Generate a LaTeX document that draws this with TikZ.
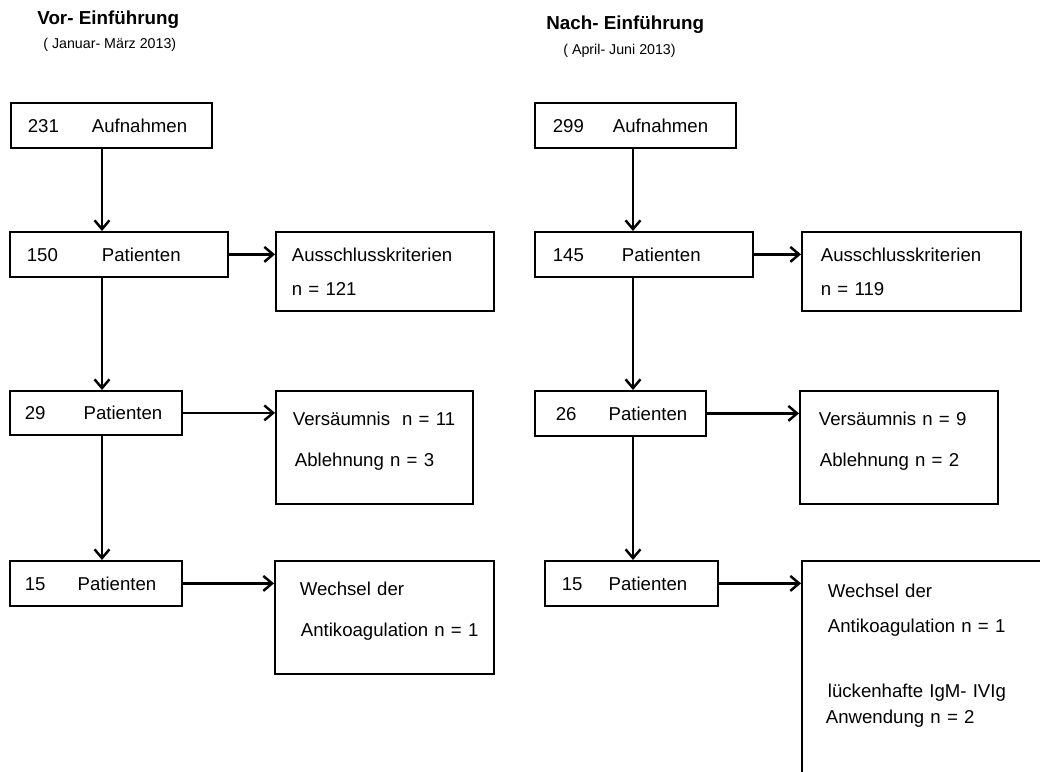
\documentclass[tikz,border=0pt]{standalone}
\usepackage{fontspec}
\setmainfont{Liberation Sans}
\usetikzlibrary{arrows.meta}
\newlength{\pxu}
\setlength{\pxu}{0.02cm}

\begin{document}
\begin{tikzpicture}[x=0.02cm,y=-0.02cm,
  box/.style={draw, line width=1pt, anchor=north west, inner xsep=0pt, inner ysep=0pt, align=left, font=\fontsize{10.6pt}{12.7pt}\selectfont},
  arr/.style={line width=1.4pt, -{Straight Barb[length=5pt,width=8.5pt]}},
  titel/.style={anchor=base west, inner sep=0pt, font=\fontsize{10.7pt}{12pt}\selectfont\bfseries},
  zeit/.style={anchor=base west, inner sep=0pt, font=\fontsize{8.1pt}{10pt}\selectfont}]
\useasboundingbox (0,0) rectangle (1040,771);
\clip (0,0) rectangle (1040,771);
\coordinate (colL) at (102,0);
\coordinate (colR) at (633,0);

% Ueberschriften
\node[titel] (vor) at (37,24) {Vor- Einführung};
\node[zeit] (vorzeit) at (43,48.5) {( Januar- März 2013)};
\node[titel] (nach) at (546,29) {Nach- Einführung};
\node[zeit] (nachzeit) at (563,54) {( April- Juni 2013)};

% vor Einfuehrung
\node[box, text width=201*\pxu, minimum height=45*\pxu] (a1) at (10,102) {\hspace*{17\pxu}231\hspace{33\pxu}Aufnahmen};
\node[box, text width=218*\pxu, minimum height=45*\pxu] (p1) at (9,231) {\hspace*{17\pxu}150\hspace{44\pxu}Patienten};
\node[box, text width=218*\pxu, minimum height=79*\pxu] (ex1) at (275,231) {\hspace*{16\pxu}Ausschlusskriterien\\[11.7\pxu]\hspace*{16\pxu}n = 121};
\node[box, text width=172*\pxu, minimum height=44*\pxu] (p2) at (9,390) {\hspace*{15\pxu}29\hspace{38\pxu}Patienten};
\node[box, text width=197*\pxu, minimum height=113*\pxu] (v1) at (275,390) {\hspace*{17\pxu}Versäumnis\hspace{12\pxu}n = 11\\[18.7\pxu]\hspace*{19\pxu}Ablehnung n = 3\rule[-16\pxu]{0pt}{16\pxu}};
\node[box, text width=172*\pxu, minimum height=45*\pxu] (p3) at (9,560) {\hspace*{15\pxu}15\hspace{32\pxu}Patienten};
\node[box, text width=219*\pxu, minimum height=113*\pxu] (w1) at (274,560) {\hspace*{25\pxu}Wechsel der\\[18.7\pxu]\hspace*{26\pxu}Antikoagulation n = 1\rule[-16\pxu]{0pt}{16\pxu}};

\draw[arr] (a1.south -| colL) -- (p1.north -| colL);
\draw[arr] (p1.south -| colL) -- (p2.north -| colL);
\draw[arr] (p2.south -| colL) -- (p3.north -| colL);
\draw[arr] (p1.east) -- (ex1.west |- p1.east);
\draw[arr] (p2.east) -- (v1.west |- p2.east);
\draw[arr] (p3.east) -- (w1.west |- p3.east);

% nach Einfuehrung
\node[box, text width=201*\pxu, minimum height=45*\pxu] (a2) at (534,102) {\hspace*{18\pxu}299\hspace{29\pxu}Aufnahmen};
\node[box, text width=218*\pxu, minimum height=45*\pxu] (p4) at (534,231) {\hspace*{18\pxu}145\hspace{38\pxu}Patienten};
\node[box, text width=219*\pxu, minimum height=79*\pxu] (ex2) at (801,231) {\hspace*{19\pxu}Ausschlusskriterien\\[11.7\pxu]\hspace*{19\pxu}n = 119};
\node[box, text width=171*\pxu, minimum height=45*\pxu] (p5) at (534,390) {\hspace*{21\pxu}26\hspace{32\pxu}Patienten};
\node[box, text width=198*\pxu, minimum height=113*\pxu] (v2) at (799,390) {\hspace*{19\pxu}Versäumnis n = 9\\[18.7\pxu]\hspace*{20\pxu}Ablehnung n = 2\rule[-16\pxu]{0pt}{16\pxu}};
\node[box, text width=173*\pxu, minimum height=45*\pxu] (p6) at (544,560) {\hspace*{17\pxu}15\hspace{26\pxu}Patienten};
\node[box, text width=260*\pxu, minimum height=260*\pxu] (w2) at (801,560) {\hspace*{26\pxu}Wechsel der\\[12.7\pxu]\hspace*{26\pxu}Antikoagulation n = 1\\[42.7\pxu]\hspace*{26\pxu}lückenhafte IgM- IVIg\\[3.7\pxu]\hspace*{24\pxu}Anwendung n = 2\rule[-74\pxu]{0pt}{74\pxu}};

\draw[arr] (a2.south -| colR) -- (p4.north -| colR);
\draw[arr] (p4.south -| colR) -- (p5.north -| colR);
\draw[arr] (p5.south -| colR) -- (p6.north -| colR);
\draw[arr] (p4.east) -- (ex2.west |- p4.east);
\draw[arr] (p5.east) -- (v2.west |- p5.east);
\draw[arr] (p6.east) -- (w2.west |- p6.east);
\end{tikzpicture}
\end{document}
